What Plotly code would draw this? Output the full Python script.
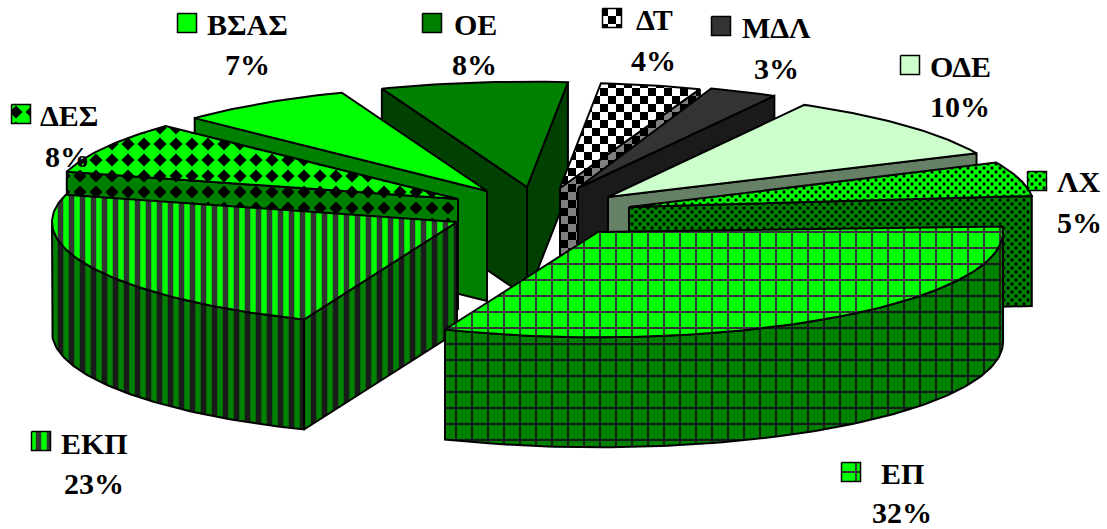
import math
import plotly.graph_objects as go

# ---- data, in chart order (clockwise from the 3 o'clock position)
names = ["ΕΠ", "ΕΚΠ", "ΔΕΣ", "ΒΣΑΣ", "ΟΕ", "ΔΤ", "ΜΔΛ", "ΟΔΕ", "ΛΧ"]
percents = [32, 23, 8, 7, 8, 4, 3, 10, 5]

# ---- geometry of the pseudo-3D projection
W, H = 1107, 529
START = -3.0
R = 405.0
TILT = 0.26
DEPTH = 110.0
apex = {"ΕΠ": (598, 232), "ΕΚΠ": (457, 222), "ΔΕΣ": (458, 199), "ΒΣΑΣ": (487, 191),
        "ΟΕ": (527, 187), "ΔΤ": (560, 188), "ΜΔΛ": (578, 188), "ΟΔΕ": (608, 197), "ΛΧ": (629, 207)}
# small perspective correction of each slice's edges (degrees, start and end)
edge_shift = {"ΟΕ": (0, -2), "ΔΤ": (-2, -2), "ΜΔΛ": (-3, -4), "ΟΔΕ": (-4, -3.5), "ΛΧ": (-4, -3)}
paint_order = ["ΟΕ", "ΔΤ", "ΜΔΛ", "ΒΣΑΣ", "ΟΔΕ", "ΔΕΣ", "ΛΧ", "ΕΚΠ", "ΕΠ"]

# ---- styles: top colour, wall colour, wall colour for the radial sides, pattern
G, DG = "#00FF00", "#008000"
style = {
    "ΕΠ": dict(top=G, wall=DG, side=DG, fg="#333333", wfg="#1a1a1a", pat=("+", 16, 0.22)),
    "ΕΚΠ": dict(top=G, wall=DG, side=DG, fg="#333333", wfg="#1a1a1a", pat=("|", 11, 0.5)),
    "ΔΕΣ": dict(top=G, wall=DG, side=DG, fg="#000000", wfg="#000000", cells=("diamond", 16, 16, 6.5, False)),
    "ΒΣΑΣ": dict(top=G, wall=DG, side=DG),
    "ΟΕ": dict(top="#008000", wall="#004000", side="#004000"),
    "ΔΤ": dict(top="#FFFFFF", wall="#808080", side="#808080", fg="#000000", wfg="#000000",
               cells=("check", 8, 8, 4, False)),
    "ΜΔΛ": dict(top="#333333", wall="#1a1a1a", side="#1a1a1a"),
    "ΟΔΕ": dict(top="#CCFFCC", wall="#668066", side="#668066"),
    "ΛΧ": dict(top=G, wall=DG, side=DG, fg="#000000", wfg="#000000", cells=("square", 8, 4, 1.4, True)),
}
# label centre, percent centre, key centre
labels = {
    "ΒΣΑΣ": ((247, 24), (247, 64), (187, 23)),
    "ΟΕ": ((475, 24), (474, 64), (432, 23)),
    "ΔΤ": ((654, 19), (653, 60), (612, 18)),
    "ΜΔΛ": ((776, 27), (776, 68), (721, 26)),
    "ΟΔΕ": ((960, 66), (960, 106), (910, 65)),
    "ΛΧ": ((1079, 181), (1079, 222), (1037, 181)),
    "ΕΠ": ((902, 473), (902, 512), (851, 472)),
    "ΕΚΠ": ((94, 443), (94, 483), (41, 441)),
    "ΔΕΣ": ((69, 115), (67, 156), (21, 114)),
}
FONT = "Liberation Serif"
FONT_SIZE = 30


def point(name, deg, drop=0.0):
    a = math.radians(deg)
    cx, cy = apex[name]
    return (cx + R * math.cos(a), cy + R * TILT * math.sin(a) + drop)


def clip(poly, boundary):
    area = sum(boundary[i][0] * boundary[(i + 1) % len(boundary)][1] -
               boundary[(i + 1) % len(boundary)][0] * boundary[i][1] for i in range(len(boundary)))
    sign = 1 if area > 0 else -1
    out = poly
    for i in range(len(boundary)):
        ax, ay = boundary[i]
        bx, by = boundary[(i + 1) % len(boundary)]
        if abs(ax - bx) + abs(ay - by) < 1e-9:
            continue
        side = lambda p: sign * ((bx - ax) * (p[1] - ay) - (by - ay) * (p[0] - ax))
        new = []
        for j in range(len(out)):
            p, q = out[j], out[(j + 1) % len(out)]
            sp, sq = side(p), side(q)
            if sp >= 0:
                new.append(p)
            if sp * sq < 0:
                t = sp / (sp - sq)
                new.append((p[0] + t * (q[0] - p[0]), p[1] + t * (q[1] - p[1])))
        out = new
        if not out:
            break
    return out


def cell_paths(poly, spec):
    kind, px, py, r, stagger = spec
    x0, x1 = min(p[0] for p in poly), max(p[0] for p in poly)
    y0, y1 = min(p[1] for p in poly), max(p[1] for p in poly)
    xs, ys = [], []
    j0, j1 = int(y0 // py) - 1, int(y1 // py) + 2
    i0, i1 = int(x0 // px) - 1, int(x1 // px) + 2
    for j in range(j0, j1):
        for i in range(i0, i1):
            ox = i * px + (px / 2 if stagger and j % 2 else 0)
            oy = j * py
            if kind == "check":
                if (i + j) % 2:
                    continue
                cell = [(ox, oy), (ox + px, oy), (ox + px, oy + py), (ox, oy + py)]
            elif kind == "diamond":
                cell = [(ox, oy - r), (ox + r, oy), (ox, oy + r), (ox - r, oy)]
            else:
                cell = [(ox - r, oy - r), (ox + r, oy - r), (ox + r, oy + r), (ox - r, oy + r)]
            c = clip(cell, poly)
            if len(c) >= 3:
                xs += [p[0] for p in c] + [c[0][0], None]
                ys += [p[1] for p in c] + [c[0][1], None]
    return xs, ys


fig = go.Figure()


def face(poly, fill, fg=None, pat=None, cells=None, lw=2.0):
    closed = poly + [poly[0]]
    x = [p[0] for p in closed]
    y = [p[1] for p in closed]
    kw = {}
    if pat and fg:
        kw["fillpattern"] = dict(shape=pat[0], size=pat[1], solidity=pat[2], fgcolor=fg,
                                 bgcolor=fill, fillmode="replace")
    fig.add_trace(go.Scatter(x=x, y=y, mode="lines", fill="toself", fillcolor=fill,
                             line=dict(color="rgba(0,0,0,0)", width=0), hoverinfo="skip", **kw))
    if cells and fg:
        cx, cy = cell_paths(poly, cells)
        fig.add_trace(go.Scatter(x=cx, y=cy, mode="lines", fill="toself", fillcolor=fg,
                                 line=dict(color=fg, width=0), hoverinfo="skip"))
    fig.add_trace(go.Scatter(x=x, y=y, mode="lines", line=dict(color="#000000", width=lw),
                             hoverinfo="skip"))


angles = {}
cur = START
for n, p in zip(names, percents):
    s1, s2 = edge_shift.get(n, (0, 0))
    angles[n] = (cur + s1, cur + p * 3.6 + s2)
    cur += p * 3.6

for n in paint_order:
    a1, a2 = angles[n]
    st = style[n]
    ax, ay = apex[n]
    wall_kw = dict(fg=st.get("wfg"), pat=st.get("pat"), cells=st.get("cells"))
    # outer rim wall, only the part in the front half
    lo, hi = max(a1, 0), min(a2, 180)
    if hi > lo:
        steps = max(2, int(hi - lo))
        top = [point(n, lo + (hi - lo) * i / steps) for i in range(steps + 1)]
        bot = [point(n, lo + (hi - lo) * i / steps, DEPTH) for i in range(steps, -1, -1)]
        face(top + bot, st["wall"], **wall_kw)
    # radial side walls that face the viewer
    if math.cos(math.radians(a1)) < 0:
        e, e2 = point(n, a1), point(n, a1, DEPTH)
        face([(ax, ay), e, e2, (ax, ay + DEPTH)], st["side"], **wall_kw)
    if math.cos(math.radians(a2)) > 0:
        e, e2 = point(n, a2), point(n, a2, DEPTH)
        face([(ax, ay), e, e2, (ax, ay + DEPTH)], st["side"], **wall_kw)
    # top face
    steps = max(2, int(a2 - a1))
    arc = [point(n, a1 + (a2 - a1) * i / steps) for i in range(steps + 1)]
    face([(ax, ay)] + arc, st["top"], fg=st.get("fg"), pat=st.get("pat"), cells=st.get("cells"))

# labels and keys
annotations = []
for n, p in zip(names, percents):
    (lx, ly), (px, py), (kx, ky) = labels[n]
    annotations.append(dict(x=lx, y=ly, text=f"<b>{n}</b>"))
    annotations.append(dict(x=px, y=py, text=f"<b>{p}%</b>"))
    st = style[n]
    k = 9.5
    key = [(kx - k, ky - k), (kx + k, ky - k), (kx + k, ky + k), (kx - k, ky + k)]
    face(key, st["top"], fg=st.get("fg"), pat=st.get("pat"), cells=st.get("cells"), lw=1.5)

fig.update_layout(
    width=W, height=H, margin=dict(l=0, r=0, t=0, b=0), showlegend=False,
    paper_bgcolor="white", plot_bgcolor="white",
    xaxis=dict(range=[0, W], visible=False, fixedrange=True),
    yaxis=dict(range=[H, 0], visible=False, fixedrange=True),
    annotations=[dict(a, xref="x", yref="y", showarrow=False, xanchor="center", yanchor="middle",
                      font=dict(family=FONT, size=FONT_SIZE, color="#000000")) for a in annotations],
)
fig.write_html("out.html", config={"displayModeBar": False},
               post_script="document.body.style.margin='0';document.body.style.overflow='hidden';")
